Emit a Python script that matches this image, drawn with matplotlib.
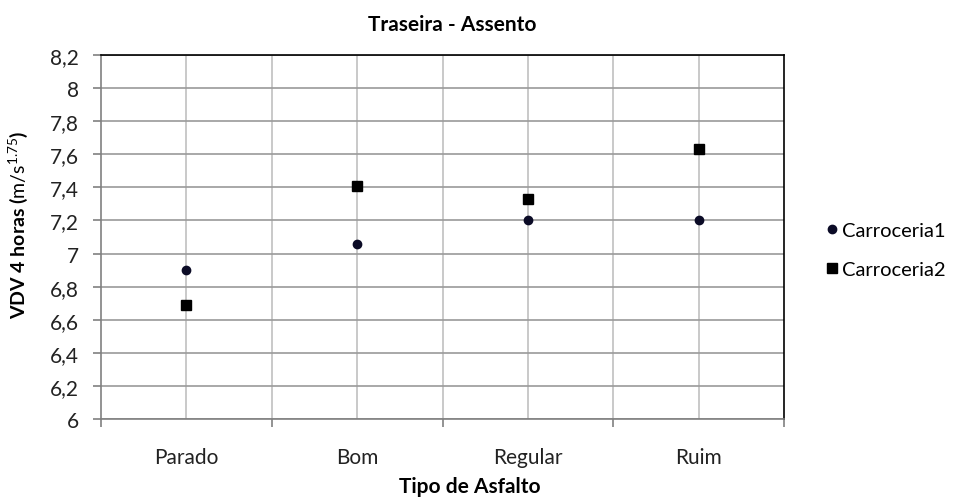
import matplotlib
matplotlib.use("Agg")
import matplotlib.pyplot as plt
import matplotlib.ticker as ticker

plt.rcParams['font.family'] = ['Lato', 'DejaVu Sans']
plt.rcParams['mathtext.fontset'] = 'custom'
plt.rcParams['mathtext.rm'] = 'Lato'
plt.rcParams['mathtext.it'] = 'Lato:italic'

# data
categorias = ["Parado", "Bom", "Regular", "Ruim"]
carroceria1 = [6.90, 7.06, 7.20, 7.20]
carroceria2 = [6.69, 7.41, 7.33, 7.63]
y_ticks = [6.0, 6.2, 6.4, 6.6, 6.8, 7.0, 7.2, 7.4, 7.6, 7.8, 8.0, 8.2]

fig = plt.figure(figsize=(9.58, 5.02), dpi=100)
ax = fig.add_axes([0.1054, 0.1633, 0.7130, 0.7251])

x = list(range(len(categorias)))
ax.plot(x, carroceria1, linestyle="none", marker="o", markersize=6,
        color="#0b0b26", label="Carroceria1", zorder=3)
ax.plot(x, carroceria2, linestyle="none", marker="s", markersize=7.5,
        color="black", label="Carroceria2", zorder=3)

ax.set_xlim(-0.5, len(categorias) - 0.5)
ax.set_ylim(6, 8.2)

# y axis
ax.set_yticks(y_ticks)
ax.yaxis.set_major_formatter(ticker.FuncFormatter(
    lambda v, p: ("%g" % round(v, 1)).replace(".", ",")))
ax.grid(axis="y", color="#9a9a9a", linewidth=1.2)

# x axis: labels at the centres, ticks on the boundaries
ax.set_xticks(x)
ax.set_xticklabels(categorias)
ax.xaxis.set_minor_locator(ticker.MultipleLocator(1, offset=0.5))
ax.tick_params(axis="x", which="major", length=0, pad=20)
ax.tick_params(axis="x", which="minor", length=6, color="#808080", width=1.2)
ax.tick_params(axis="y", length=6, color="#808080", width=1.2, pad=10)
ax.tick_params(labelsize=15, labelcolor="#222222")
ax.xaxis.set_minor_formatter(ticker.NullFormatter())
for xv in [i * 0.5 - 0.5 for i in range(1, 2 * len(categorias))]:
    ax.axvline(xv, color="#c0c0c0", linewidth=1.2, zorder=0)
ax.set_axisbelow(True)

ax.spines["left"].set_color("#808080")
ax.spines["bottom"].set_color("#808080")
ax.spines["top"].set_color("black")
ax.spines["right"].set_color("black")
for s in ax.spines.values():
    s.set_linewidth(1.2)

fig.text(0.472, 0.95, "Traseira - Assento", ha="center", va="center",
         fontsize=15, fontweight="bold")
fig.text(0.49, 0.03, "Tipo de Asfalto", ha="center", va="center",
         fontsize=15, fontweight="bold")
fig.text(0.019, 0.552, r"VDV 4 horas ($\mathrm{m/s^{1.75}}$)", rotation=90,
         ha="center", va="center", fontsize=14, fontweight="bold")

fig.legend(loc="center left", bbox_to_anchor=(0.851, 0.50), frameon=False,
           fontsize=14.5, handletextpad=0.05, labelspacing=1.05,
           handlelength=0.9, borderaxespad=0)

fig.savefig("out.png", dpi=100)
